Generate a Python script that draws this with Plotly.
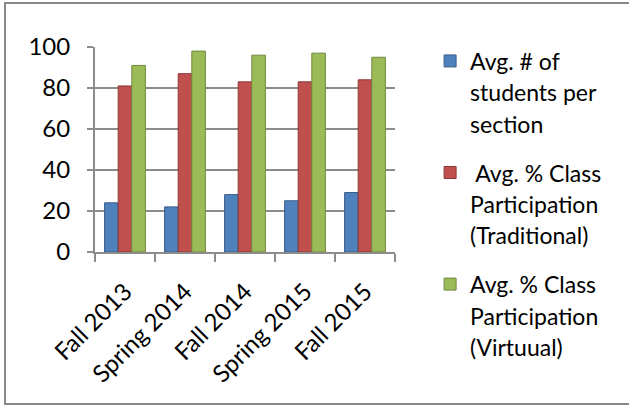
import plotly.graph_objects as go

categories = ["Fall 2013", "Spring 2014", "Fall 2014", "Spring 2015", "Fall 2015"]
students_per_section = [24, 22, 28, 25, 29]
participation_traditional = [81, 87, 83, 83, 84]
participation_virtual = [91, 98, 96, 97, 95]

series_names = [
    "Avg. # of<br>students per<br>section",
    " Avg. % Class<br>Participation<br>(Traditional)",
    "Avg. % Class<br>Participation<br>(Virtuual)",
]
series_values = [students_per_section, participation_traditional, participation_virtual]
colors = ["#4F81BD", "#C0504D", "#9BBB59"]
edge_colors = ["#385D8A", "#8C3836", "#71893F"]

FONT = "Lato"

fig = go.Figure()
for i, (name, vals, c, ec) in enumerate(zip(series_names, series_values, colors, edge_colors)):
    fig.add_trace(go.Bar(
        x=categories, y=vals,
        name="<span style='font-size:23px'>" + name + "</span>",
        legendgroup="g%d" % i,
        marker=dict(color=c, line=dict(color=ec, width=1)),
    ))

fig.update_layout(
    width=629, height=406,
    margin=dict(l=95, r=234, t=47, b=154),
    paper_bgcolor="white", plot_bgcolor="white",
    barmode="group", bargap=0.32, bargroupgap=0,
    font=dict(family=FONT, color="#000000"),
    showlegend=True,
    legend=dict(
        x=1.117, y=1.04, xanchor="left", yanchor="top",
        font=dict(family=FONT, size=24, color="#000000"),
        valign="top", tracegroupgap=15, traceorder="grouped",
        bgcolor="rgba(0,0,0,0)", maxheight=1000,
    ),
    xaxis=dict(
        tickangle=-45, tickfont=dict(family=FONT, size=24),
        showline=True, linecolor="#8C8C8C", linewidth=2,
        ticks="outside", ticklen=8, tickcolor="#8C8C8C", tickwidth=2,
        tickson="boundaries", showgrid=False, ticklabelstandoff=14,
    ),
    yaxis=dict(
        range=[0, 100], dtick=20, tickfont=dict(family=FONT, size=24),
        showline=True, linecolor="#8C8C8C", linewidth=2,
        ticks="outside", ticklen=6, tickcolor="#8C8C8C", tickwidth=2,
        showgrid=True, gridcolor="#8C8C8C", gridwidth=2,
        zeroline=False, ticklabelstandoff=12,
    ),
    shapes=[dict(
        type="rect", xref="paper", yref="paper",
        x0=-0.30, x1=2.5, y0=-0.741, y1=1.215,
        line=dict(color="#888888", width=2), fillcolor="rgba(0,0,0,0)", layer="below",
    )],
)

fig.write_html("out.html")
